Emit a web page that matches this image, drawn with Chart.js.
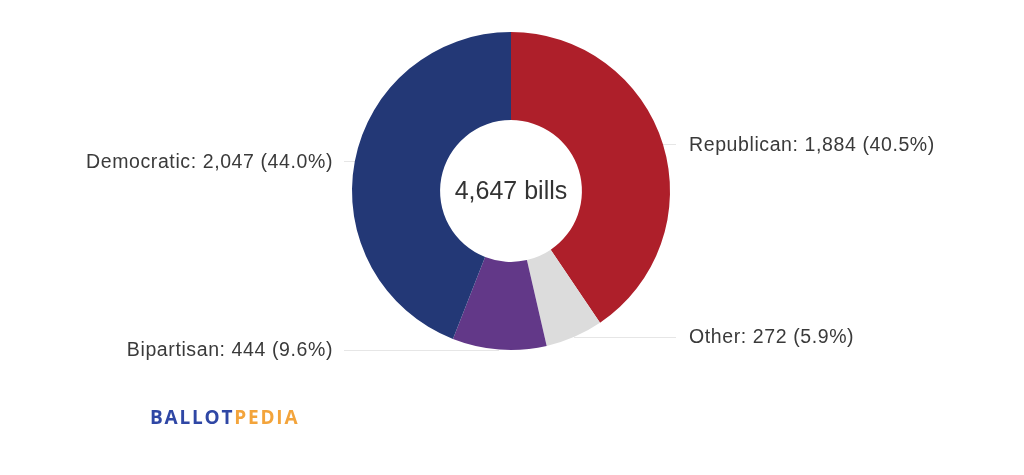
<!DOCTYPE html>
<html>
<head>
<meta charset="utf-8">
<script src="https://cdn.jsdelivr.net/npm/chart.js@4"></script>
<style>
  html, body { margin: 0; padding: 0; background: #ffffff; }
  #wrap { position: relative; width: 1024px; height: 475px; }
  #logo {
    position: absolute;
    left: 150px;
    top: 405px;
    font-family: "Open Sans", sans-serif;
    font-weight: 700;
    font-size: 19px;
    letter-spacing: 1.8px;
    line-height: 24px;
  }
  #logo .ballot { color: #2f47a5; }
  #logo .pedia { color: #f3a43b; }
</style>
</head>
<body>
<div id="wrap">
  <canvas id="billsChart" width="1024" height="475"></canvas>
  <div id="logo"><span class="ballot">BALLOT</span><span class="pedia">PEDIA</span></div>
</div>
<script>
const categories = ["Republican", "Other", "Bipartisan", "Democratic"];
const billCounts = [1884, 272, 444, 2047];
const sharePercents = ["40.5", "5.9", "9.6", "44.0"];
const sliceColors = ["#ae1f2a", "#dcdcdc", "#623888", "#233876"];
const centerLabel = "4,647 bills";

const numberFormatter = new Intl.NumberFormat("en-US");

const labelFont = '19.5px "Liberation Sans", Arial, sans-serif';
const labelColor = "#3a3a3a";
const connectorColor = "#e6e6e6";

// leader lines sit under the ring, text and centre label on top
const sliceLabels = {
  id: "sliceLabels",
  beforeDatasetsDraw(chart) {
    const ctx = chart.ctx;
    const arcs = chart.getDatasetMeta(0).data;
    ctx.save();
    ctx.strokeStyle = connectorColor;
    ctx.lineWidth = 1;
    arcs.forEach((arc) => {
      const mid = (arc.startAngle + arc.endAngle) / 2;
      const ex = arc.x + Math.cos(mid) * arc.outerRadius;
      const ey = arc.y + Math.sin(mid) * arc.outerRadius;
      const right = Math.cos(mid) >= 0;
      const endX = right ? arc.x + 165 : arc.x - 167;
      ctx.beginPath();
      ctx.moveTo(Math.round(ex), Math.round(ey) + 0.5);
      ctx.lineTo(endX, Math.round(ey) + 0.5);
      ctx.stroke();
    });
    ctx.restore();
  },
  afterDatasetsDraw(chart) {
    const ctx = chart.ctx;
    const arcs = chart.getDatasetMeta(0).data;
    ctx.save();
    ctx.font = labelFont;
    ctx.letterSpacing = "0.6px";
    ctx.fillStyle = labelColor;
    ctx.textBaseline = "middle";
    arcs.forEach((arc, i) => {
      const mid = (arc.startAngle + arc.endAngle) / 2;
      const ey = arc.y + Math.sin(mid) * arc.outerRadius;
      const right = Math.cos(mid) >= 0;
      const text = `${categories[i]}: ${numberFormatter.format(billCounts[i])} (${sharePercents[i]}%)`;
      ctx.textAlign = right ? "left" : "right";
      ctx.fillText(text, right ? arc.x + 178 : arc.x - 178, ey + 1);
    });
    const first = arcs[0];
    ctx.letterSpacing = "0px";
    ctx.font = '25px "Liberation Sans", Arial, sans-serif';
    ctx.fillStyle = "#333333";
    ctx.textAlign = "center";
    ctx.fillText(centerLabel, first.x, first.y + 1);
    ctx.restore();
  },
};

const chart = new Chart(document.getElementById("billsChart").getContext("2d"), {
  type: "doughnut",
  data: {
    labels: categories,
    datasets: [
      {
        data: billCounts,
        backgroundColor: sliceColors,
        borderWidth: 0,
        hoverOffset: 0,
      },
    ],
  },
  options: {
    responsive: false,
    animation: false,
    cutout: "44.6%",
    layout: {
      padding: { top: 32, bottom: 125, left: 352, right: 354 },
    },
    plugins: {
      legend: { display: false },
      tooltip: { enabled: false },
    },
  },
  plugins: [sliceLabels],
});
</script>
</body>
</html>
